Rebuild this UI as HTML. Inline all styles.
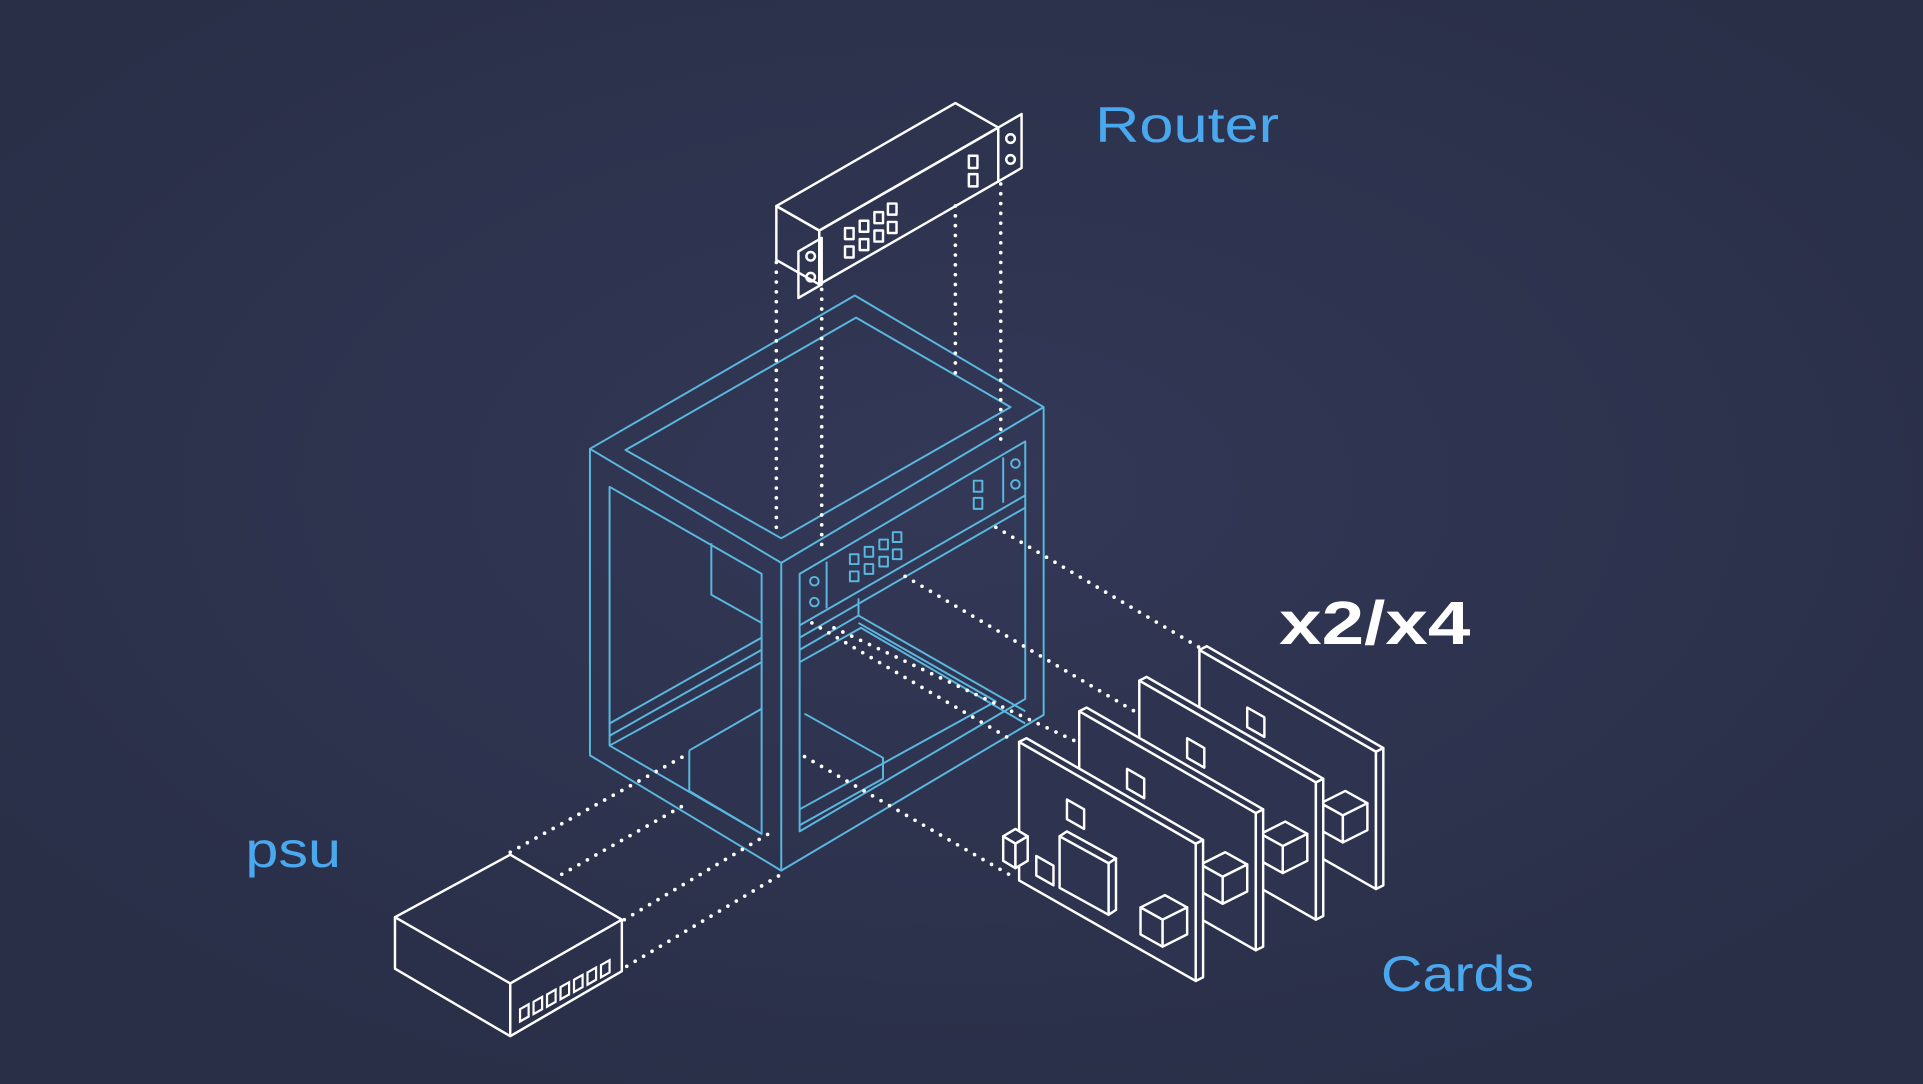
<!DOCTYPE html>
<html><head><meta charset="utf-8">
<style>
html,body{margin:0;padding:0;width:1923px;height:1084px;overflow:hidden;background:#2b3049}
svg{display:block}
text{font-family:"Liberation Sans",sans-serif}
</style></head><body>
<svg width="1923" height="1084" viewBox="0 0 1568 884" xmlns="http://www.w3.org/2000/svg">
<defs>
<radialGradient id="bg" cx="50%" cy="45%" r="60%">
<stop offset="0" stop-color="#323856"/><stop offset="1" stop-color="#2a2f48"/>
</radialGradient>
</defs>
<rect width="1568" height="884" fill="url(#bg)"/>

<!-- rack -->
<g fill="none" stroke="#5ab8df" stroke-width="1.6" stroke-linejoin="round">
<polygon points="481,366 697,241 851,332 851,583 637,710 481,616"/>
<polyline points="481,366 637,459 851,332"/>
<line x1="637" y1="459" x2="637" y2="710"/>
<polygon points="510,367 698,259 824,332 637,439"/>
<polygon points="497,397 621,468 621,680 497,608"/>
<polygon points="652,468 836,360 836,570 652,678"/>
<polyline points="580,443 580,485 621,508"/>
<line x1="497" y1="590" x2="621" y2="520"/>
<line x1="497" y1="600" x2="621" y2="530"/>
<line x1="497" y1="608" x2="621" y2="540"/>
<polyline points="562,612 562,645 621,680"/>
<polyline points="562,612 621,578"/>
<line x1="652" y1="510" x2="836" y2="404"/>
<line x1="652" y1="520" x2="836" y2="414"/>
<line x1="652" y1="530" x2="700" y2="502"/>
<polyline points="700,488 700,502 836,580"/>
<polyline points="652,540 702,512 836,590"/>
<polyline points="652,660 812,572 700,508"/>
<polyline points="656,582 720,618 720,635 652,673"/>
<line x1="674" y1="458" x2="674" y2="496"/>
<line x1="818" y1="373" x2="818" y2="410"/>
<circle cx="664" cy="474" r="3.5"/><circle cx="664" cy="491" r="3.5"/>
<circle cx="828" cy="378" r="3.5"/><circle cx="828" cy="395" r="3.5"/>
<g>
<rect x="693" y="452" width="7" height="8"/><rect x="705" y="446" width="7" height="8"/><rect x="717" y="440" width="7" height="8"/><rect x="728" y="434" width="7" height="8"/>
<rect x="693" y="466" width="7" height="8"/><rect x="705" y="460" width="7" height="8"/><rect x="717" y="454" width="7" height="8"/><rect x="728" y="448" width="7" height="8"/>
<rect x="794" y="392" width="7" height="9"/><rect x="794" y="406" width="7" height="9"/>
</g>
</g>

<!-- router -->
<g fill="none" stroke="#fff" stroke-width="2" stroke-linejoin="round">
<polygon points="633,168 779,84 814,104 668,188"/>
<polygon points="633,168 668,188 668,232 633,212"/>
<polygon points="668,188 814,104 814,148 668,232"/>
<polygon points="651,205 670,194 670,232 651,243"/>
<polygon points="814,104 833,93 833,137 814,148"/>
<circle cx="661" cy="209" r="3.5"/><circle cx="661" cy="226" r="3.5"/>
<circle cx="824" cy="113" r="3.5"/><circle cx="824" cy="130" r="3.5"/>
<rect x="689" y="186" width="7" height="9"/><rect x="701" y="180" width="7" height="9"/><rect x="713" y="173" width="7" height="9"/><rect x="724" y="166" width="7" height="9"/>
<rect x="689" y="201" width="7" height="9"/><rect x="701" y="195" width="7" height="9"/><rect x="713" y="188" width="7" height="9"/><rect x="724" y="181" width="7" height="9"/>
<rect x="790" y="127" width="7" height="10"/><rect x="790" y="142" width="7" height="10"/>
</g>

<!-- dotted lines -->
<g stroke="#fff" stroke-width="3" stroke-linecap="round" stroke-dasharray="0 8" fill="none">
<line x1="633" y1="214" x2="633" y2="435"/>
<line x1="670" y1="236" x2="670" y2="452"/>
<line x1="779" y1="168" x2="779" y2="308"/>
<line x1="816" y1="150" x2="816" y2="365"/>
<line x1="812" y1="430" x2="978" y2="528"/>
<line x1="738" y1="470" x2="925" y2="580"/>
<line x1="680" y1="512" x2="876" y2="604"/>
<line x1="662" y1="508" x2="826" y2="604"/>
<line x1="656" y1="617" x2="826" y2="715"/>
<line x1="416" y1="695" x2="557" y2="617"/>
<line x1="458" y1="713" x2="557" y2="657"/>
<line x1="509" y1="750" x2="630" y2="678"/>
<line x1="511" y1="788" x2="637" y2="713"/>
</g>

<!-- psu -->
<g fill="none" stroke="#fff" stroke-width="2" stroke-linejoin="round">
<polygon points="322,748 416,697 507,750 416,802"/>
<polyline points="322,748 322,790 416,845 507,792 507,750"/>
<line x1="416" y1="802" x2="416" y2="845"/>
</g>
<g fill="none" stroke="#fff" stroke-width="1.8">
<polygon points="424,823 431,819 431,829 424,833"/>
<polygon points="435,817 442,813 442,823 435,827"/>
<polygon points="446,811 453,807 453,817 446,821"/>
<polygon points="457,805 464,801 464,811 457,815"/>
<polygon points="468,799 475,795 475,805 468,809"/>
<polygon points="479,793 486,789 486,799 479,803"/>
<polygon points="490,787 497,783 497,793 490,797"/>
</g>

<!-- cards -->
<g fill="#2e3350" stroke="#fff" stroke-width="2" stroke-linejoin="round">
<g transform="translate(147,-75)">
<polygon points="831,605 975,688 975,800 831,718"/><polygon points="975,688 981,685 981,797 975,800"/><polygon points="831,605 837,602 981,685 975,688"/>
<polygon points="870,652 884,660 884,676 870,668"/>
<polygon points="930,730 950,720 968,730 948,740"/><polygon points="930,730 948,740 948,762 930,752"/><polygon points="948,740 968,730 968,752 948,762"/>
</g>
<g transform="translate(98,-50)">
<polygon points="831,605 975,688 975,800 831,718"/><polygon points="975,688 981,685 981,797 975,800"/><polygon points="831,605 837,602 981,685 975,688"/>
<polygon points="870,652 884,660 884,676 870,668"/>
<polygon points="930,730 950,720 968,730 948,740"/><polygon points="930,730 948,740 948,762 930,752"/><polygon points="948,740 968,730 968,752 948,762"/>
</g>
<g transform="translate(49,-25)">
<polygon points="831,605 975,688 975,800 831,718"/><polygon points="975,688 981,685 981,797 975,800"/><polygon points="831,605 837,602 981,685 975,688"/>
<polygon points="870,652 884,660 884,676 870,668"/>
<polygon points="930,730 950,720 968,730 948,740"/><polygon points="930,730 948,740 948,762 930,752"/><polygon points="948,740 968,730 968,752 948,762"/>
</g>
<g>
<polygon points="831,605 975,688 975,800 831,718"/><polygon points="975,688 981,685 981,797 975,800"/><polygon points="831,605 837,602 981,685 975,688"/>
<polygon points="870,652 884,660 884,676 870,668"/>
<polygon points="845,698 859,706 859,722 845,714"/>
<polygon points="864,682 870,678 910,700 904,704"/><polygon points="864,682 904,704 904,746 864,724"/><polygon points="904,704 910,700 910,742 904,746"/>
<polygon points="818,682 828,676 838,682 828,688"/><polygon points="818,682 828,688 828,708 818,702"/><polygon points="828,688 838,682 838,702 828,708"/>
<polygon points="930,740 950,730 968,740 948,750"/><polygon points="930,740 948,750 948,772 930,762"/><polygon points="948,750 968,740 968,762 948,772"/>
</g>
</g>

<!-- labels -->
<text x="893" y="116" font-size="41" fill="#4aa8ee" textLength="150" lengthAdjust="spacingAndGlyphs">Router</text>
<text x="200" y="707" font-size="41" fill="#4aa8ee" textLength="78" lengthAdjust="spacingAndGlyphs">psu</text>
<text x="1126" y="808" font-size="41" fill="#4aa8ee" textLength="125" lengthAdjust="spacingAndGlyphs">Cards</text>
<text x="1043" y="525" font-size="50" font-weight="bold" fill="#fff" textLength="156" lengthAdjust="spacingAndGlyphs">x2/x4</text>
</svg>
</body></html>
